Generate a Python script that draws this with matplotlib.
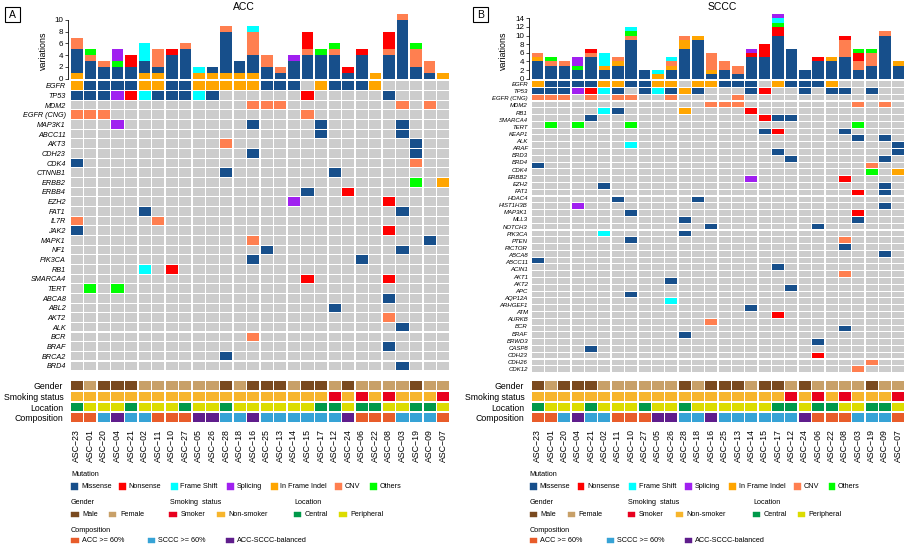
import numpy as np
import matplotlib
matplotlib.use("Agg")
from matplotlib import pyplot as plt
from matplotlib.patches import Rectangle

W, H = 921, 549
plt.rcParams['font.family'] = ['Liberation Sans', 'DejaVu Sans']

########################################################################
# Data
samples = ['ASC-23', 'ASC-01', 'ASC-20', 'ASC-04', 'ASC-21', 'ASC-02', 'ASC-11',
           'ASC-10', 'ASC-27', 'ASC-05', 'ASC-26', 'ASC-28', 'ASC-18', 'ASC-16',
           'ASC-25', 'ASC-13', 'ASC-14', 'ASC-15', 'ASC-17', 'ASC-12', 'ASC-24',
           'ASC-06', 'ASC-22', 'ASC-08', 'ASC-03', 'ASC-19', 'ASC-09', 'ASC-07']

mut_types = ['Missense', 'Nonsense', 'Frame Shift', 'Splicing', 'In Frame Indel', 'CNV', 'Others']
mut_codes = ['M', 'N', 'F', 'S', 'I', 'C', 'O']
mut_colors = ['#174F8B', '#FF0000', '#00FFFF', '#A020F0', '#FFA500', '#FF7F50', '#00FF00']
no_alt = '#CCCCCC'

# variations per sample (ACC)
acc_missense   = [4, 3, 2, 2, 2, 2, 1, 4, 5, 0, 1, 7, 2, 3, 2, 1, 3, 4, 4, 4, 1, 4, 0, 4, 10, 2, 1, 0]
acc_nonsense   = [0, 0, 0, 0, 2, 0, 0, 1, 0, 0, 0, 0, 0, 0, 0, 0, 0, 3, 0, 0, 1, 1, 0, 3, 0, 0, 0, 0]
acc_frameshift = [0, 0, 0, 0, 0, 3, 0, 0, 0, 1, 0, 0, 0, 1, 0, 0, 0, 0, 0, 0, 0, 0, 0, 0, 0, 0, 0, 0]
acc_splicing   = [0, 0, 0, 2, 0, 0, 0, 0, 0, 0, 0, 0, 0, 0, 0, 0, 1, 0, 0, 0, 0, 0, 0, 0, 0, 0, 0, 0]
acc_inframe    = [1, 0, 0, 0, 0, 1, 1, 0, 0, 1, 1, 1, 1, 1, 0, 0, 0, 0, 0, 0, 0, 0, 1, 0, 0, 0, 0, 1]
acc_cnv        = [2, 1, 1, 0, 0, 0, 3, 0, 1, 0, 0, 1, 0, 4, 2, 1, 0, 1, 0, 1, 0, 0, 0, 1, 1, 3, 2, 0]
acc_others     = [0, 1, 0, 1, 0, 0, 0, 0, 0, 0, 0, 0, 0, 0, 0, 0, 0, 0, 1, 1, 0, 0, 0, 0, 0, 1, 0, 0]

# variations per sample (SCCC)
sccc_missense   = [4, 3, 3, 2, 5, 2, 3, 9, 2, 0, 2, 7, 9, 1, 2, 1, 5, 5, 10, 7, 2, 4, 4, 5, 2, 3, 10, 3]
sccc_nonsense   = [0, 0, 0, 0, 1, 0, 0, 0, 0, 0, 0, 0, 0, 0, 0, 0, 1, 3, 2, 0, 0, 1, 0, 1, 2, 0, 0, 0]
sccc_frameshift = [0, 0, 0, 0, 0, 3, 0, 1, 0, 1, 1, 0, 0, 0, 0, 0, 0, 0, 1, 0, 0, 0, 0, 0, 0, 0, 0, 0]
sccc_splicing   = [0, 0, 0, 2, 0, 0, 0, 0, 0, 0, 0, 0, 0, 0, 0, 0, 1, 0, 1, 0, 0, 0, 0, 0, 0, 0, 0, 0]
sccc_inframe    = [1, 0, 0, 0, 0, 1, 1, 0, 0, 1, 1, 2, 1, 1, 0, 0, 0, 0, 0, 0, 0, 0, 1, 0, 0, 0, 0, 1]
sccc_cnv        = [1, 1, 1, 0, 1, 0, 1, 1, 0, 0, 1, 1, 0, 4, 2, 2, 0, 0, 0, 0, 0, 0, 0, 4, 2, 3, 1, 0]
sccc_others     = [0, 1, 0, 1, 0, 0, 0, 1, 0, 0, 0, 0, 0, 0, 0, 0, 0, 0, 1, 0, 0, 0, 0, 0, 1, 1, 0, 0]

# gene x sample alterations: 28-char strings or {column: code}
acc_genes = ['EGFR', 'TP53', 'MDM2', 'EGFR (CNG)', 'MAP3K1', 'ABCC11', 'AKT3', 'CDH23',
             'CDK4', 'CTNNB1', 'ERBB2', 'ERBB4', 'EZH2', 'FAT1', 'IL7R', 'JAK2', 'MAPK1',
             'NF1', 'PIK3CA', 'RB1', 'SMARCA4', 'TERT', 'ABCA8', 'ABL2', 'AKT2', 'ALK',
             'BCR', 'BRAF', 'BRCA2', 'BRD4']
acc_alts = [
    'IMMMMIIMMIIIIIMMM.IMMMI.....',
    'MMMSNFMMMFM......N.....M....',
    {13: 'C', 14: 'C', 15: 'C', 24: 'C', 26: 'C'},
    {0: 'C', 1: 'C', 2: 'C', 17: 'C'},
    {3: 'S', 13: 'M', 18: 'M', 24: 'M'},
    {18: 'M', 24: 'M'},
    {11: 'C', 25: 'M'},
    {13: 'M', 25: 'M'},
    {0: 'M', 25: 'C'},
    {11: 'M', 19: 'M'},
    {25: 'O', 27: 'I'},
    {17: 'M', 20: 'N'},
    {16: 'S', 23: 'N'},
    {5: 'M', 24: 'M'},
    {0: 'C', 6: 'C'},
    {0: 'M', 23: 'N'},
    {13: 'C', 26: 'M'},
    {14: 'M', 24: 'M'},
    {13: 'M', 21: 'M'},
    {5: 'F', 7: 'N'},
    {17: 'N', 23: 'N'},
    {1: 'O', 3: 'O'},
    {23: 'M'},
    {19: 'M'},
    {23: 'C'},
    {24: 'M'},
    {13: 'C'},
    {23: 'M'},
    {11: 'M'},
    {24: 'M'},
]

# SCCC: 43 drawn rows, but only 41 labels printed, spread over the rows
sccc_labels = ['EGFR', 'TP53', 'EGFR (CNG)', 'MDM2', 'RB1', 'SMARCA4', 'TERT', 'KEAP1',
               'ALK', 'ARAF', 'BRD3', 'BRD4', 'CDK4', 'ERBB2', 'EZH2', 'FAT1', 'HDAC4',
               'HIST1H3B', 'MAP3K1', 'MLL3', 'NOTCH3', 'PIK3CA', 'PTEN', 'RICTOR', 'ABCA8',
               'ABCC11', 'ACIN1', 'AKT1', 'AKT2', 'APC', 'AQP12A', 'ARHGEF1', 'ATM', 'AURKB',
               'BCR', 'BRAF', 'BRWD3', 'CASP8', 'CDH23', 'CDH26', 'CDK12']
sccc_alts = [
    'IMMMMIIMMII.IIMMM.IMMMI.....',
    'MMMSNFM.MFMIM...MN..M.MM.M..',
    {0: 'C', 1: 'C', 2: 'C', 4: 'C', 6: 'C', 7: 'C', 10: 'C', 15: 'C'},
    {13: 'C', 14: 'C', 15: 'C', 24: 'C', 26: 'C'},
    {5: 'F', 6: 'M', 11: 'I', 16: 'N'},
    {4: 'M', 17: 'N', 18: 'M', 19: 'M'},
    {1: 'O', 3: 'O', 7: 'O', 24: 'O'},
    {17: 'M', 18: 'N', 23: 'M'},
    {24: 'M', 26: 'M'},
    {7: 'F', 27: 'M'},
    {18: 'M', 27: 'M'},
    {19: 'M', 26: 'M'},
    {0: 'M', 25: 'C'},
    {25: 'O', 27: 'I'},
    {16: 'S', 23: 'N'},
    {5: 'M', 26: 'M'},
    {24: 'N', 26: 'M'},
    {6: 'M', 12: 'M'},
    {3: 'S', 26: 'M'},
    {7: 'M', 24: 'N'},
    {11: 'M', 24: 'M'},
    {13: 'M', 21: 'M'},
    {5: 'F', 11: 'M'},
    {7: 'M', 23: 'C'},
    {23: 'M'},
    {26: 'M'},
    {0: 'M'},
    {18: 'M'},
    {23: 'C'},
    {10: 'M'},
    {19: 'M'},
    {7: 'M'},
    {10: 'F'},
    {16: 'M'},
    {18: 'N'},
    {13: 'C'},
    {23: 'M'},
    {11: 'M'},
    {21: 'M'},
    {4: 'M'},
    {21: 'N'},
    {25: 'C'},
    {24: 'C'},
]

# clinical tracks
gender      = 'MFMMMFFFFFFMFMMMFMMFMFFFFMFF'
smoking     = 'NNNNNNNNNNNNNNNNNNNSNSNSNNNS'
location    = 'CPPPCPPPCPPCPPPPPPCCPCCPPCCP'
composition = 'AASBSSAAABBSSBSSSSSSBAAASSSA'

gender_colors = {'M': '#7A4A1F', 'F': '#C8A068'}
smoking_colors = {'S': '#E8001E', 'N': '#F7B52C'}
location_colors = {'C': '#00994A', 'P': '#DCDC00'}
composition_colors = {'A': '#E85C2A', 'S': '#36A3D6', 'B': '#5F1D8C'}


########################################################################
def px_axes(fig, x0, y0, x1, y1):
    return fig.add_axes([x0 / W, 1 - y1 / H, (x1 - x0) / W, (y1 - y0) / H])


def fx(x):
    return x / W


def fy(y):
    return 1 - y / H


def code_color(c):
    if c == '.':
        return no_alt
    return mut_colors[mut_codes.index(c)]


def row_colors(alt, n):
    if isinstance(alt, str):
        return [code_color(c) for c in alt]
    return [code_color(alt.get(j, '.')) for j in range(n)]


def draw_bars(fig, x0, x1, stacks, ytick_max, px_per_unit):
    zero = 78.7
    top = 12
    ax = px_axes(fig, x0, top, x1, zero)
    n = len(samples)
    x = np.arange(n)
    bottom = np.zeros(n)
    for name, vals in stacks:
        vals = np.array(vals)
        ax.bar(x, vals, bottom=bottom, width=0.86, linewidth=0,
               color=mut_colors[mut_types.index(name)])
        bottom += vals
    ax.set_xlim(-0.5, n - 0.5)
    ax.set_ylim(0, (zero - top) / px_per_unit)
    for s in ['top', 'right', 'bottom']:
        ax.spines[s].set_visible(False)
    ax.spines['left'].set_position(('outward', 1.5))
    ax.spines['left'].set_bounds(0, ytick_max)
    ax.spines['left'].set_linewidth(0.6)
    ax.set_yticks(range(0, ytick_max + 1, 2))
    ax.set_xticks([])
    ax.tick_params(axis='y', labelsize=5.8, length=2.5, width=0.5, pad=1)
    return ax


def draw_grid(fig, x0, x1, y0, y1, alts, labels, label_pos, fontsize, pad, cell_h):
    ax = px_axes(fig, x0, y0, x1, y1)
    n = len(samples)
    for i, alt in enumerate(alts):
        ax.bar(np.arange(n), cell_h, bottom=i - cell_h / 2, width=0.9,
               color=row_colors(alt, n), linewidth=0)
    ax.set_xlim(-0.5, n - 0.5)
    ax.set_ylim(len(alts) - 0.5, -0.5)
    for s in ax.spines.values():
        s.set_visible(False)
    ax.set_xticks([])
    ax.set_yticks(label_pos)
    ax.set_yticklabels(labels, fontstyle='italic', fontsize=fontsize)
    ax.tick_params(axis='y', length=0, pad=pad)
    return ax


def draw_tracks(fig, x0, x1):
    ax = px_axes(fig, x0, 380.3, x1, 423.1)
    n = len(samples)
    tracks = [(gender, gender_colors), (smoking, smoking_colors),
              (location, location_colors), (composition, composition_colors)]
    for i, (vals, cmap) in enumerate(tracks):
        ax.bar(np.arange(n), 0.8, bottom=i - 0.4, width=0.9,
               color=[cmap[v] for v in vals], linewidth=0)
    ax.set_xlim(-0.5, n - 0.5)
    ax.set_ylim(3.5, -0.5)
    for s in ax.spines.values():
        s.set_visible(False)
    ax.set_yticks(range(4))
    ax.set_yticklabels(['Gender', 'Smoking status', 'Location', 'Composition'], fontsize=6.3)
    ax.set_xticks(range(n))
    ax.set_xticklabels([s.replace('-', '\u2212') for s in samples], rotation=90, fontsize=6.3)
    ax.tick_params(axis='y', length=0, pad=4.8)
    ax.tick_params(axis='x', length=0, pad=4.3)
    return ax


def square(fig, x, y, w, h, color):
    fig.add_artist(Rectangle((fx(x), fy(y + h / 2)), w / W, h / H,
                             transform=fig.transFigure, facecolor=color,
                             edgecolor=color, linewidth=0.3))


def draw_legend(fig, dx):
    fs = 5.2
    fig.text(fx(71 + dx), fy(474), 'Mutation', fontsize=fs, va='center')
    sq_x = [71.3, 119, 170.7, 226.7, 270.7, 335.3, 370]
    for name, col, sx in zip(mut_types, mut_colors, sq_x):
        square(fig, sx + dx, 486.5, 6.8, 6.8, col)
        fig.text(fx(sx + dx + 9.6), fy(486.5), name, fontsize=fs, va='center')

    fig.text(fx(71 + dx), fy(502.7), 'Gender', fontsize=fs, va='center')
    fig.text(fx(170 + dx), fy(502.7), 'Smoking  status', fontsize=fs, va='center')
    fig.text(fx(294.7 + dx), fy(502.7), 'Location', fontsize=fs, va='center')
    row2 = [(71.3, 'Male', gender_colors['M']), (109, 'Female', gender_colors['F']),
            (169.3, 'Smoker', smoking_colors['S']), (217.3, 'Non-smoker', smoking_colors['N']),
            (294, 'Central', location_colors['C']), (339.3, 'Peripheral', location_colors['P'])]
    for sx, name, col in row2:
        square(fig, sx + dx, 514.5, 7.3, 5, col)
        fig.text(fx(sx + dx + 11), fy(514.5), name, fontsize=fs, va='center')

    fig.text(fx(71 + dx), fy(530.7), 'Composition', fontsize=fs, va='center')
    row3 = [(71.3, 'ACC >= 60%', composition_colors['A']),
            (148, 'SCCC >= 60%', composition_colors['S']),
            (226.3, 'ACC-SCCC-balanced', composition_colors['B'])]
    for sx, name, col in row3:
        square(fig, sx + dx, 540.7, 7.3, 5, col)
        fig.text(fx(sx + dx + 10.5), fy(540.7), name, fontsize=fs, va='center')


def panel_letter(fig, x0, y0, letter):
    fig.add_artist(Rectangle((fx(x0), fy(y0 + 14.4)), 15 / W, 14.4 / H,
                             transform=fig.transFigure, fill=False,
                             edgecolor='black', linewidth=0.8))
    fig.text(fx(x0 + 7.5), fy(y0 + 7.4), letter, fontsize=7.5,
             ha='center', va='center')


########################################################################
def run():
    fig = plt.figure(figsize=(W / 100, H / 100), dpi=100)

    # --- panel A: ACC
    panel_letter(fig, 5, 7.3, 'A')
    fig.text(fx(244), fy(7), 'ACC', fontsize=7.5, ha='center', va='center')
    acc_stacks = [('In Frame Indel', acc_inframe), ('Missense', acc_missense),
                  ('CNV', acc_cnv), ('Nonsense', acc_nonsense), ('Others', acc_others),
                  ('Frame Shift', acc_frameshift), ('Splicing', acc_splicing)]
    draw_bars(fig, 70, 450, acc_stacks, 10, 5.87)
    fig.text(fx(43.5), fy(51), 'variations', rotation=90, fontsize=6.4,
             ha='center', va='center')
    draw_grid(fig, 70, 450, 80.9, 370.7, acc_alts, acc_genes,
              range(len(acc_genes)), 5.2, 3.0, 0.88)
    draw_tracks(fig, 70, 450)
    draw_legend(fig, 0)

    # --- panel B: SCCC
    panel_letter(fig, 473, 7.5, 'B')
    fig.text(fx(722), fy(7), 'SCCC', fontsize=7.5, ha='center', va='center')
    sccc_stacks = [('Missense', sccc_missense), ('In Frame Indel', sccc_inframe),
                   ('CNV', sccc_cnv), ('Nonsense', sccc_nonsense), ('Others', sccc_others),
                   ('Frame Shift', sccc_frameshift), ('Splicing', sccc_splicing)]
    draw_bars(fig, 531, 905, sccc_stacks, 14, 4.31)
    fig.text(fx(503), fy(51), 'variations', rotation=90, fontsize=6.4,
             ha='center', va='center')
    draw_grid(fig, 531, 905, 80.6, 372.6, sccc_alts, sccc_labels,
              np.linspace(0, len(sccc_alts) - 1, len(sccc_labels)), 4.3, 2.2, 0.84)
    draw_tracks(fig, 531, 905)
    draw_legend(fig, 458.5)

    fig.savefig('out.png', dpi=100)


if __name__ == '__main__':
    run()
